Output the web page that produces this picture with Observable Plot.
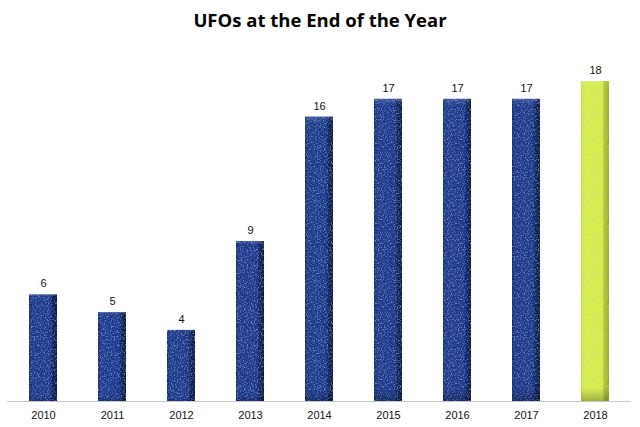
<!DOCTYPE html>
<html>
<head>
<meta charset="utf-8">
<script src="https://cdn.jsdelivr.net/npm/d3@7"></script>
<script src="https://cdn.jsdelivr.net/npm/@observablehq/plot@0.6"></script>
<style>
  html, body { margin: 0; padding: 0; background: #fff; }
  #title { height: 42px; line-height: 40px; text-align: center; font-family: "Open Sans", sans-serif; font-weight: bold; font-size: 18.5px; color: #000; }
  #chart svg { display: block; }
</style>
</head>
<body>
<div id="title">UFOs at the End of the Year</div>
<div id="chart"></div>
<script>
const years = ["2010", "2011", "2012", "2013", "2014", "2015", "2016", "2017", "2018"];
const counts = [6, 5, 4, 9, 16, 17, 17, 17, 18];
const highlightYear = "2018";

const data = years.map((y, i) => ({ year: y, count: counts[i], hi: y === highlightYear }));

const plot = Plot.plot({
  width: 640,
  height: 385,
  marginLeft: 7,
  marginRight: 9,
  marginTop: 39,
  marginBottom: 26,
  style: { fontFamily: "Liberation Sans, Arial, sans-serif", fontSize: "11px", color: "#111", background: "#fff" },
  x: { domain: years, paddingInner: 0.6, paddingOuter: 0.3, label: null, tickSize: 0, tickPadding: 10 },
  y: { domain: [0, 18], axis: null },
  color: { type: "identity" },
  marks: [
    Plot.barY(data, { x: "year", y: "count", fill: d => d.hi ? "url(#gradYellow)" : "url(#gradBlue)" }),
    Plot.barY(data, { x: "year", y: "count", fill: d => d.hi ? "url(#noiseYellow)" : "url(#noiseBlue)" }),
    Plot.barY(data, { x: "year", y: "count", fill: "url(#bevelV)" }),
    Plot.ruleY([0], { stroke: "#c8c8c8", strokeWidth: 1 }),
    Plot.text(data, { x: "year", y: "count", text: d => String(d.count), dy: -11, fill: "#111", fontSize: 11 })
  ]
});

const ns = "http://www.w3.org/2000/svg";
const defs = document.createElementNS(ns, "defs");
defs.innerHTML = `
  <linearGradient id="gradBlue" x1="0" x2="1" y1="0" y2="0">
    <stop offset="0" stop-color="#13296a"/>
    <stop offset="0.1" stop-color="#1d3a8a"/>
    <stop offset="0.76" stop-color="#1c3886"/>
    <stop offset="0.82" stop-color="#122660"/>
    <stop offset="1" stop-color="#0a1640"/>
  </linearGradient>
  <linearGradient id="gradYellow" x1="0" x2="1" y1="0" y2="0">
    <stop offset="0" stop-color="#c8e034"/>
    <stop offset="0.1" stop-color="#dcf24c"/>
    <stop offset="0.76" stop-color="#d8f046"/>
    <stop offset="0.82" stop-color="#b4c830"/>
    <stop offset="1" stop-color="#9aac26"/>
  </linearGradient>
  <linearGradient id="bevelV" x1="0" x2="0" y1="0" y2="1">
    <stop offset="0" stop-color="#ffffff" stop-opacity="0.15"/>
    <stop offset="0.02" stop-color="#ffffff" stop-opacity="0"/>
    <stop offset="0.96" stop-color="#000000" stop-opacity="0"/>
    <stop offset="1" stop-color="#000000" stop-opacity="0.25"/>
  </linearGradient>
  <filter id="speckleB" x="0" y="0" width="100%" height="100%">
    <feTurbulence type="fractalNoise" baseFrequency="0.7" numOctaves="2" seed="3"/>
    <feColorMatrix type="matrix" values="0 0 0 0 0.3  0 0 0 0 0.42  0 0 0 0 0.78  0 0 0 2.2 -1.05"/>
  </filter>
  <filter id="speckleY" x="0" y="0" width="100%" height="100%">
    <feTurbulence type="fractalNoise" baseFrequency="0.7" numOctaves="2" seed="7"/>
    <feColorMatrix type="matrix" values="0 0 0 0 0.5  0 0 0 0 0.56  0 0 0 0 0.5  0 0 0 2.2 -1.1"/>
  </filter>
  <pattern id="noiseBlue" patternUnits="userSpaceOnUse" width="80" height="80">
    <rect width="80" height="80" filter="url(#speckleB)"/>
  </pattern>
  <pattern id="noiseYellow" patternUnits="userSpaceOnUse" width="80" height="80">
    <rect width="80" height="80" filter="url(#speckleY)"/>
  </pattern>
`;
plot.insertBefore(defs, plot.firstChild);
document.getElementById("chart").appendChild(plot);
</script>
</body>
</html>
